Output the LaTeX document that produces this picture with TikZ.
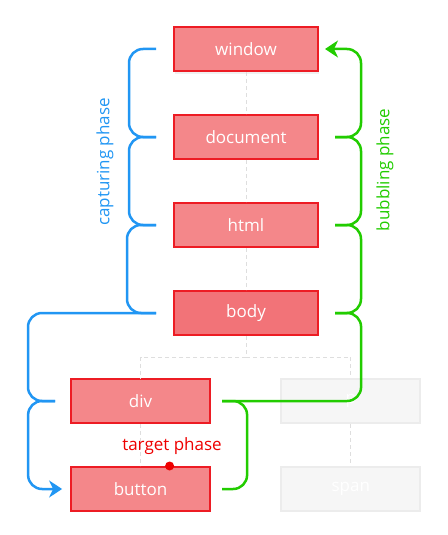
\documentclass[tikz,border=0pt]{standalone}
\usepackage{fontspec}
\setmainfont{Open Sans}
\usepackage{tikz}
\usetikzlibrary{arrows.meta, shadows}
\definecolor{dompink}{RGB}{244, 135, 138}
\definecolor{dombody}{RGB}{242, 115, 120}
\definecolor{domred}{RGB}{237, 28, 36}
\definecolor{capblue}{RGB}{33, 150, 243}
\definecolor{bubgreen}{RGB}{34, 204, 0}
\definecolor{targetred}{RGB}{238, 0, 0}
\definecolor{ghostfill}{RGB}{246, 246, 246}
\definecolor{ghostline}{RGB}{236, 236, 236}
\definecolor{treegray}{RGB}{222, 222, 222}
\tikzset{
    domnode/.style={rectangle, draw=domred, line width=2pt, fill=dompink, text=white, minimum width=144pt, minimum height=44pt, font=\fontsize{17}{19}\selectfont},
    leafnode/.style={domnode, minimum width=139pt},
    bodynode/.style={domnode, fill=dombody},
    ghostnode/.style={leafnode, draw=ghostline, fill=ghostfill},
    treeline/.style={draw=treegray, line width=1pt, dash pattern=on 4pt off 3pt},
    capline/.style={draw=capblue, line width=2.5pt, rounded corners=14pt},
    bubline/.style={draw=bubgreen, line width=2.5pt, rounded corners=14pt},
    phaselabel/.style={font=\fontsize{17}{19}\selectfont, rotate=90}
}
\begin{document}
\begin{tikzpicture}[x=1pt, y=-1pt]
    \useasboundingbox (0,0) rectangle (447,535);
    \node[domnode, drop shadow={opacity=0.12, shadow xshift=1pt, shadow yshift=-3pt}] (window) at (246,49) {window};
    \node[domnode] (document) at (246,137) {document};
    \node[domnode] (html) at (246,225) {html};
    \node[bodynode] (body) at (246,313) {body};
    \node[leafnode] (div) at (140.6,401) {div};
    \node[ghostnode] (p) at (350.8,401) {p};
    \node[leafnode] (button) at (140.6,489) {button};
    \node[ghostnode] (span) at (350.8,489) {span};
    \coordinate (fork) at (246,357);

    \draw[treeline] (window) -- (document);
    \draw[treeline] (document) -- (html);
    \draw[treeline] (html) -- (body);
    \draw[treeline] (body) -- (fork) -| (div);
    \draw[treeline] (fork) -| (p);
    \draw[treeline] (div) -- (button);
    \draw[treeline] (p) -- (span);

    \draw[capline] ([xshift=-17pt]window.west) -- ++(-27,0) |- ([xshift=-17pt]document.west);
    \draw[capline] ([xshift=-17pt]document.west) -- ++(-27,0) |- ([xshift=-17pt]html.west);
    \draw[capline] ([xshift=-17pt]html.west) -- ++(-29,0) |- ([xshift=-17pt]body.west);
    \draw[capline] ([xshift=-17pt]body.west) -- ++(-128,0) |- ([xshift=-15pt]div.west);
    \draw[capline, -{Stealth[length=13pt, width=17pt, inset=4pt]}] ([xshift=-15pt]div.west) -- ++(-27,0) |- ([xshift=-8pt]button.west);

    \draw[bubline] ([xshift=11pt]button.east) -- ++(25,0) |- ([xshift=11pt]div.east);
    \draw[bubline] ([xshift=11pt]div.east) -- ++(139,0) |- ([xshift=16pt]body.east);
    \draw[bubline] ([xshift=16pt]body.east) -- ++(26,0) |- ([xshift=16pt]html.east);
    \draw[bubline] ([xshift=16pt]html.east) -- ++(26,0) |- ([xshift=16pt]document.east);
    \draw[bubline, -{Stealth[length=13pt, width=17pt, inset=4pt]}] ([xshift=16pt]document.east) -- ++(26,0) |- ([xshift=6pt]window.east);

    \node[phaselabel, text=capblue] (capture) at (105,162) {capturing phase};
    \node[phaselabel, text=bubgreen] (bubble) at (385,170) {bubbling phase};
    \node[font=\fontsize{17}{19}\selectfont, text=targetred] (target) at (172,446) {target phase};
    \node[circle, fill=targetred, inner sep=0pt, minimum size=9pt] (targetdot) at ([xshift=29pt]button.north) {};
\end{tikzpicture}
\end{document}
